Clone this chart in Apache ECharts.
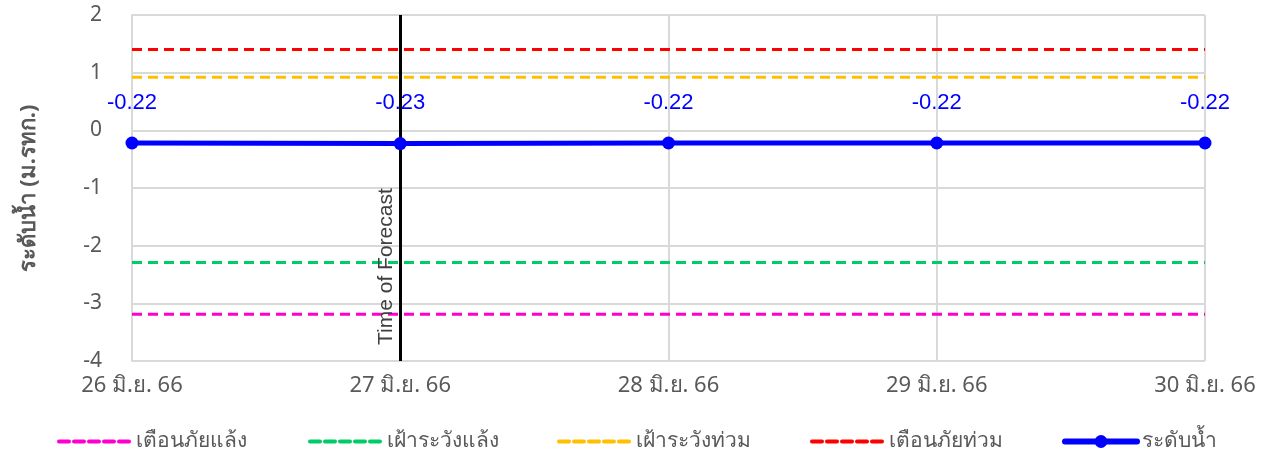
<!DOCTYPE html>
<html>
<head>
<meta charset="utf-8">
<script src="https://cdn.jsdelivr.net/npm/echarts@6/dist/echarts.min.js"></script>
<style>
  html, body { margin: 0; padding: 0; background: #fff; }
  #chart { width: 1266px; height: 463px; }
</style>
</head>
<body>
<div id="chart"></div>
<script>
// วันที่ (แกน X)
var days = ['26 มิ.ย. 66', '27 มิ.ย. 66', '28 มิ.ย. 66', '29 มิ.ย. 66', '30 มิ.ย. 66'];

// ระดับน้ำ
var waterLevel = [-0.22, -0.23, -0.22, -0.22, -0.22];

// เกณฑ์เตือน
var droughtWarn = [-3.19, -3.19, -3.19, -3.19, -3.19];
var droughtWatch = [-2.29, -2.29, -2.29, -2.29, -2.29];
var floodWatch = [0.92, 0.92, 0.92, 0.92, 0.92];
var floodWarn = [1.40, 1.40, 1.40, 1.40, 1.40];

var forecastDay = '27 มิ.ย. 66';

var names = ['เตือนภัยแล้ง', 'เฝ้าระวังแล้ง', 'เฝ้าระวังท่วม', 'เตือนภัยท่วม', 'ระดับน้ำ'];
var colors = ['#ff00cc', '#00cc66', '#ffc000', '#ff0000', '#0000ff'];

var font = 'Noto Sans, DejaVu Sans, sans-serif';
var grey = '#595959';

var chart = echarts.init(document.getElementById('chart'));

//เส้นประเกณฑ์
var dashed = function (i, data) {
    return {
        name: names[i],
        type: 'line',
        data: data,
        symbol: 'none',
        silent: true,
        lineStyle: { color: colors[i], width: 3, type: [10, 6] },
        itemStyle: { color: colors[i] },
        z: 2
    };
};

//legend แยกช่องเท่าๆ กัน
var legendLeft = [52, 303, 552, 805, 1057];
var legends = names.map(function (n, i) {
    var item = { name: n };
    if (i < 4) item.itemStyle = { opacity: 0 };
    return {
        left: legendLeft[i],
        top: 426,
        itemWidth: 72,
        itemHeight: 16,
        itemGap: 0,
        lineStyle: i < 4 ? { width: 4, type: [10, 5], cap: 'round' } : { width: 6, cap: 'round' },
        textStyle: { fontSize: 21, color: grey, fontFamily: font },
        data: [item]
    };
});

chart.setOption({
    animation: false,
    textStyle: { fontFamily: font },
    grid: { left: 132, right: 61, top: 15, bottom: 102 },
    legend: legends,
    xAxis: {
        type: 'category',
        data: days,
        boundaryGap: false,
        axisLine: { lineStyle: { color: '#d9d9d9', width: 2 } },
        axisTick: { show: false },
        axisLabel: { color: grey, fontSize: 22, margin: 14 },
        splitLine: { show: true, lineStyle: { color: '#d9d9d9', width: 2 } }
    },
    yAxis: {
        type: 'value',
        min: -4,
        max: 2,
        interval: 1,
        name: 'ระดับน้ำ (ม.รทก.)',
        nameLocation: 'middle',
        nameRotate: 90,
        nameGap: 92,
        nameTextStyle: { fontSize: 22, fontWeight: 'bold', color: grey },
        axisLine: { show: true, lineStyle: { color: '#d9d9d9', width: 2 } },
        axisTick: { show: false },
        axisLabel: { color: grey, fontSize: 21, margin: 30 },
        splitLine: { lineStyle: { color: '#d9d9d9', width: 2 } }
    },
    series: [
        dashed(0, droughtWarn),
        dashed(1, droughtWatch),
        dashed(2, floodWatch),
        dashed(3, floodWarn),
        {
            name: names[4],
            type: 'line',
            data: waterLevel,
            symbol: 'circle',
            symbolSize: 13,
            lineStyle: { color: colors[4], width: 5 },
            itemStyle: { color: colors[4] },
            label: {
                show: true,
                position: 'top',
                distance: 23,
                color: colors[4],
                fontSize: 22,
                fontFamily: 'Liberation Sans, Arial, sans-serif'
            },
            z: 5,
            markLine: {
                silent: true,
                symbol: 'none',
                lineStyle: { color: '#000', width: 3, type: 'solid' },
                label: {
                    show: true,
                    formatter: 'Time of Forecast',
                    position: 'insideStartTop',
                    distance: [16, 4],
                    color: '#404040',
                    fontSize: 21,
                    fontFamily: 'Liberation Sans, Arial, sans-serif'
                },
                data: [{ xAxis: forecastDay }]
            }
        }
    ]
});
</script>
</body>
</html>
